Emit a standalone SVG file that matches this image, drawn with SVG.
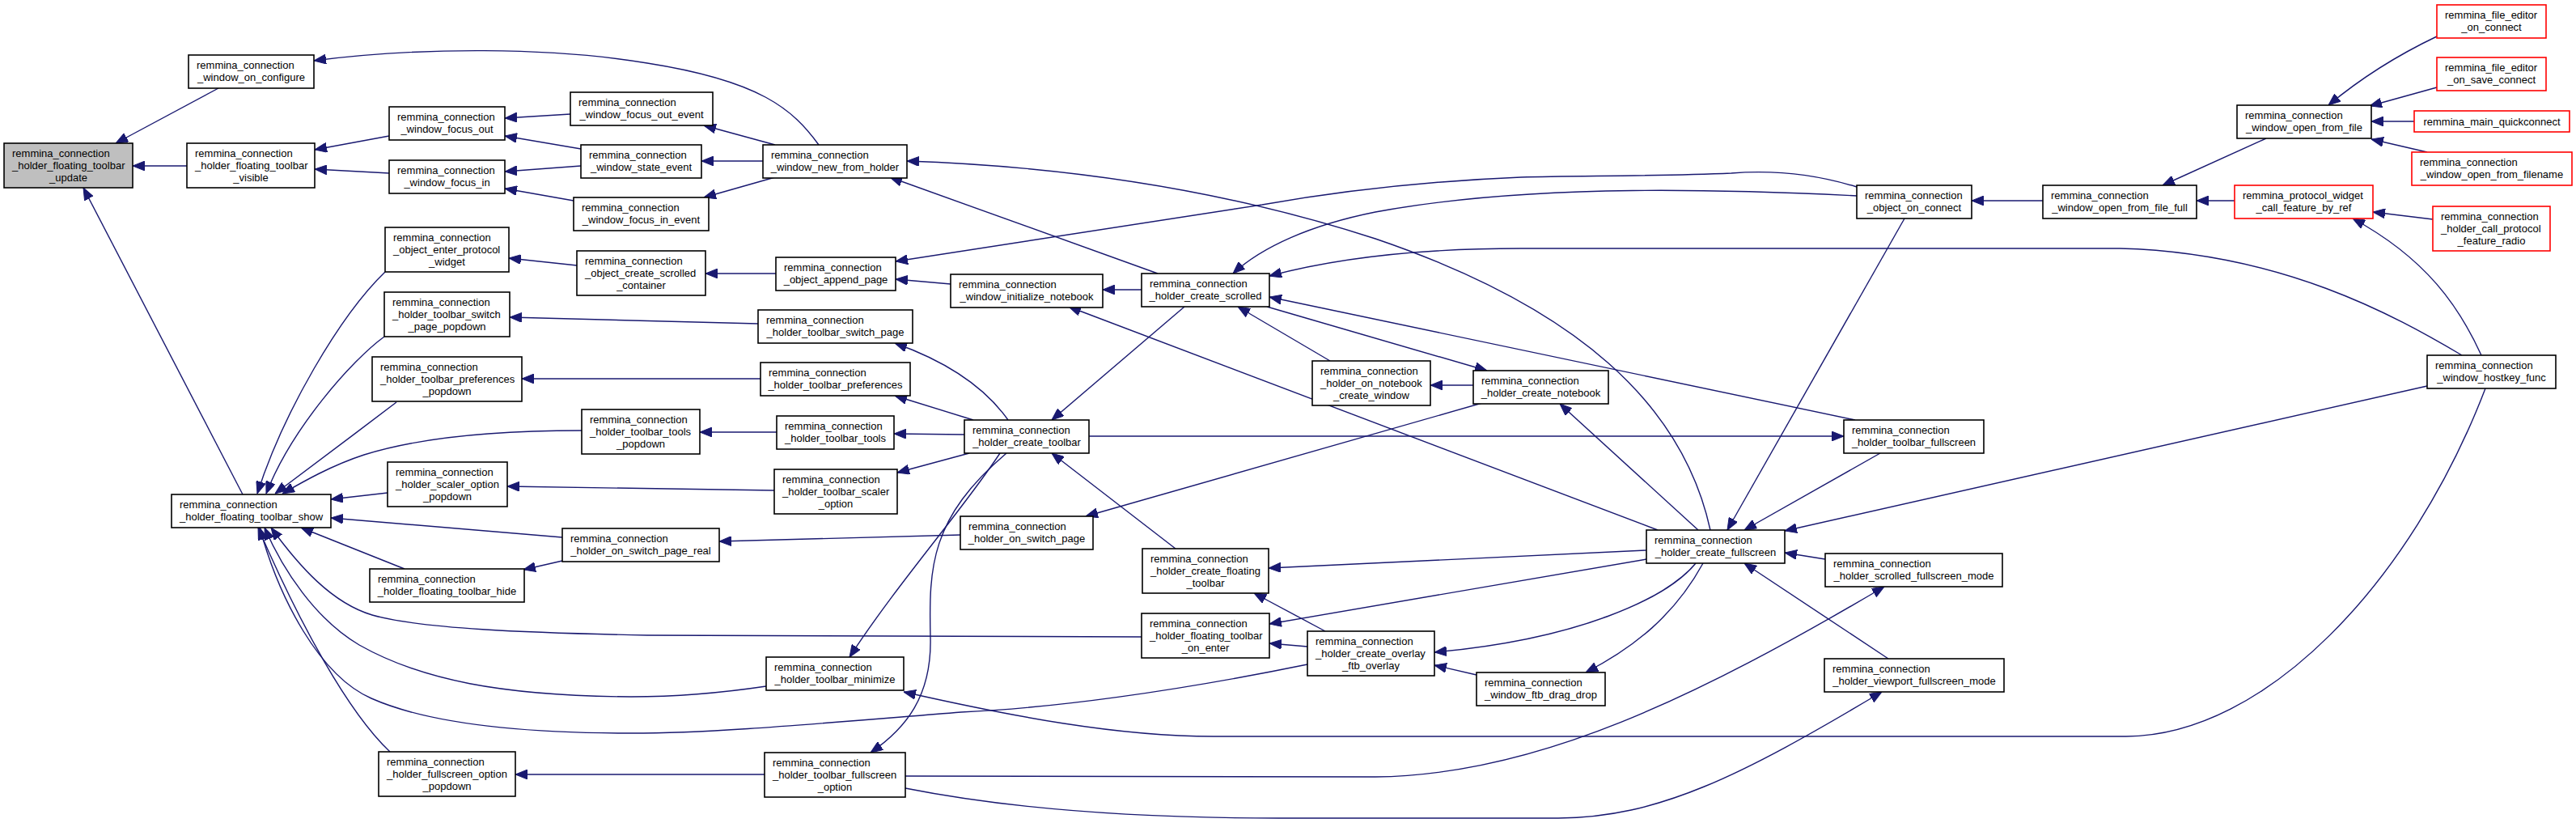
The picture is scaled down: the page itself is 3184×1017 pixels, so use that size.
<svg xmlns="http://www.w3.org/2000/svg" width="3184" height="1017" viewBox="0 0 3184 1017">
<defs>
<marker id="a" markerUnits="userSpaceOnUse" viewBox="0 0 15 12" markerWidth="15" markerHeight="12" refX="15" refY="6" orient="auto">
<path d="M0,0 L15,6 L0,12 z" fill="#191970" stroke="#191970" stroke-width="1"/>
</marker>
</defs>
<style>
rect{fill:#fff;stroke:#000;stroke-width:1.6}
.r rect{stroke:#ff0000}
.m rect{fill:#bfbfbf}
text{font-family:"Liberation Sans",Arial,sans-serif;font-size:13px;fill:#000}
.c{text-anchor:middle}
#edges path{fill:none;stroke:#191970;stroke-width:1.4;marker-end:url(#a)}
</style>
<rect x="0" y="0" width="3184" height="1017" style="fill:#fff;stroke:none"/>
<g id="edges">
<path d="M270,109 L143,177"/>
<path d="M231,205 L164,205"/>
<path d="M300,611 L103,232"/>
<path d="M481,168 L389,185"/>
<path d="M481,214 L389,209"/>
<path d="M705,141 L624,146"/>
<path d="M718,184 L624,168"/>
<path d="M718,205 L624,212"/>
<path d="M709,248 L624,233"/>
<path d="M958,179 L870,155"/>
<path d="M943,199 L867,199"/>
<path d="M958,219 L870,244"/>
<path d="M1012,179 C980,135 940,100 800,78 C680,58 520,58 388,75"/>
<path d="M1431,338 L1100,219"/>
<path d="M2114,655 C2080,500 1950,380 1700,295 C1500,230 1300,205 1121,199"/>
<path d="M2295,231 C2240,214 2190,210 2140,214 C2050,218 1950,217 1880,219 C1760,224 1650,237 1560,253 L1107,323"/>
<path d="M2295,242 C2150,235 1900,225 1700,262 C1620,278 1560,305 1524,338"/>
<path d="M3043,439 C2960,390 2820,312 2620,307 L1880,307 C1740,307 1640,322 1569,341"/>
<path d="M1566,379 L1838,458"/>
<path d="M1644,446 L1530,379"/>
<path d="M2293,519 L1569,367"/>
<path d="M1821,476 L1768,476"/>
<path d="M1411,358 L1363,358"/>
<path d="M2049,655 L1321,379"/>
<path d="M1464,379 L1300,519"/>
<path d="M1832,498 L1342,638"/>
<path d="M2099,655 L1928,499"/>
<path d="M2354,270 L2135,655"/>
<path d="M2324,560 L2156,655"/>
<path d="M3000,477 L2206,656"/>
<path d="M2256,691 L2206,683"/>
<path d="M2334,814 L2156,696"/>
<path d="M2096,696 C2060,740 1950,790 1773,806"/>
<path d="M2105,696 C2070,760 2020,800 1960,831"/>
<path d="M1825,834 L1773,822"/>
<path d="M2035,680 L1568,702"/>
<path d="M2035,691 L1569,771"/>
<path d="M1638,780 L1550,733"/>
<path d="M1616,799 L1569,795"/>
<path d="M1453,678 L1300,560"/>
<path d="M1346,539 L2279,539"/>
<path d="M1192,537 L1105,536"/>
<path d="M1198,560 L1109,584"/>
<path d="M1236,560 C1190,630 1110,720 1050,812"/>
<path d="M1244,560 C1150,640 1148,700 1150,787 C1152,860 1120,900 1076,930"/>
<path d="M1246,519 C1215,475 1165,445 1106,424"/>
<path d="M1203,519 L1106,489"/>
<path d="M937,400 L630,392"/>
<path d="M940,468 L645,468"/>
<path d="M959,338 L872,338"/>
<path d="M1175,351 L1107,345"/>
<path d="M713,328 L629,319"/>
<path d="M960,534 L865,534"/>
<path d="M957,606 L627,601"/>
<path d="M1187,661 L889,669"/>
<path d="M695,664 L409,640"/>
<path d="M695,693 L647,704"/>
<path d="M500,703 L372,652"/>
<path d="M479,609 L409,617"/>
<path d="M719,532 C620,532 520,540 450,562 C410,575 375,595 349,610"/>
<path d="M490,497 C440,535 380,580 340,610"/>
<path d="M475,416 C435,445 360,530 329,610"/>
<path d="M476,336 C420,390 350,510 318,610"/>
<path d="M1411,787 L800,785 C650,782 520,777 460,760 C410,745 370,700 335,652"/>
<path d="M947,848 C880,858 830,861 780,861 C620,860 520,840 444,797 C390,765 350,705 327,652"/>
<path d="M1616,821 C1450,855 1300,875 1188,880 C1000,895 880,906 780,906 C620,906 520,890 459,863 C395,835 345,740 321,652"/>
<path d="M482,929 C430,880 370,770 319,652"/>
<path d="M945,957 L637,957"/>
<path d="M3072,480 C2980,720 2800,909 2628,910 L1500,910 C1380,910 1250,885 1117,855"/>
<path d="M3067,439 C3040,380 3000,320 2908,270"/>
<path d="M3007,271 L2933,262"/>
<path d="M2762,248 L2715,248"/>
<path d="M2525,248 L2437,248"/>
<path d="M2801,171 L2673,229"/>
<path d="M3012,45 C2970,65 2920,95 2878,130"/>
<path d="M3012,108 L2929,131"/>
<path d="M2984,150 L2931,150"/>
<path d="M3000,188 L2931,172"/>
<path d="M1119,959 L1700,960 C1900,958 2100,860 2329,725"/>
<path d="M1119,974 C1250,1000 1400,1011 1580,1011 L1926,1011 C2050,1010 2150,960 2326,855"/>
</g>
<g id="n_main" class="m"><rect x="5" y="177" width="159" height="55"/><text x="15" y="193.5">remmina_connection</text><text x="15" y="208.5">_holder_floating_toolbar</text><text class="c" x="84.5" y="223.5">_update</text></g>
<g id="n_config"><rect x="233" y="68" width="155" height="41"/><text x="243" y="85">remmina_connection</text><text class="c" x="310.5" y="100">_window_on_configure</text></g>
<g id="n_visible"><rect x="231" y="177" width="158" height="55"/><text x="241" y="193.5">remmina_connection</text><text x="241" y="208.5">_holder_floating_toolbar</text><text class="c" x="310" y="223.5">_visible</text></g>
<g id="n_fout"><rect x="481" y="132" width="143" height="41"/><text x="491" y="149">remmina_connection</text><text class="c" x="552.5" y="164">_window_focus_out</text></g>
<g id="n_fin"><rect x="481" y="198" width="143" height="41"/><text x="491" y="215">remmina_connection</text><text class="c" x="552.5" y="230">_window_focus_in</text></g>
<g id="n_enter"><rect x="476" y="281" width="153" height="55"/><text x="486" y="297.5">remmina_connection</text><text x="486" y="312.5">_object_enter_protocol</text><text class="c" x="552.5" y="327.5">_widget</text></g>
<g id="n_swpp"><rect x="475" y="361" width="155" height="55"/><text x="485" y="377.5">remmina_connection</text><text x="485" y="392.5">_holder_toolbar_switch</text><text class="c" x="552.5" y="407.5">_page_popdown</text></g>
<g id="n_prefpop"><rect x="460" y="441" width="185" height="55"/><text x="470" y="457.5">remmina_connection</text><text x="470" y="472.5">_holder_toolbar_preferences</text><text class="c" x="552.5" y="487.5">_popdown</text></g>
<g id="n_foutev"><rect x="705" y="114" width="176" height="41"/><text x="715" y="131">remmina_connection</text><text class="c" x="793" y="146">_window_focus_out_event</text></g>
<g id="n_state"><rect x="718" y="179" width="149" height="41"/><text x="728" y="196">remmina_connection</text><text class="c" x="792.5" y="211">_window_state_event</text></g>
<g id="n_finev"><rect x="709" y="244" width="167" height="41"/><text x="719" y="261">remmina_connection</text><text class="c" x="792.5" y="276">_window_focus_in_event</text></g>
<g id="n_container"><rect x="713" y="310" width="159" height="55"/><text x="723" y="326.5">remmina_connection</text><text x="723" y="341.5">_object_create_scrolled</text><text class="c" x="792.5" y="356.5">_container</text></g>
<g id="n_newfh"><rect x="943" y="179" width="178" height="41"/><text x="953" y="196">remmina_connection</text><text class="c" x="1032" y="211">_window_new_from_holder</text></g>
<g id="n_append"><rect x="959" y="318" width="148" height="41"/><text x="969" y="335">remmina_connection</text><text class="c" x="1033" y="350">_object_append_page</text></g>
<g id="n_initnb"><rect x="1175" y="339" width="188" height="41"/><text x="1185" y="356">remmina_connection</text><text class="c" x="1269" y="371">_window_initialize_notebook</text></g>
<g id="n_cscrolled"><rect x="1411" y="338" width="158" height="41"/><text x="1421" y="355">remmina_connection</text><text class="c" x="1490" y="370">_holder_create_scrolled</text></g>
<g id="n_swpage"><rect x="937" y="383" width="191" height="41"/><text x="947" y="400">remmina_connection</text><text class="c" x="1032.5" y="415">_holder_toolbar_switch_page</text></g>
<g id="n_pref"><rect x="940" y="448" width="185" height="41"/><text x="950" y="465">remmina_connection</text><text class="c" x="1032.5" y="480">_holder_toolbar_preferences</text></g>
<g id="n_onnbcw"><rect x="1622" y="446" width="146" height="55"/><text x="1632" y="462.5">remmina_connection</text><text x="1632" y="477.5">_holder_on_notebook</text><text class="c" x="1695" y="492.5">_create_window</text></g>
<g id="n_cnotebook"><rect x="1821" y="458" width="167" height="41"/><text x="1831" y="475">remmina_connection</text><text class="c" x="1904.5" y="490">_holder_create_notebook</text></g>
<g id="n_ooc"><rect x="2295" y="229" width="142" height="41"/><text x="2305" y="246">remmina_connection</text><text class="c" x="2366" y="261">_object_on_connect</text></g>
<g id="n_fe_oc" class="r"><rect x="3012" y="6" width="135" height="41"/><text x="3022" y="23">remmina_file_editor</text><text class="c" x="3079.5" y="38">_on_connect</text></g>
<g id="n_fe_osc" class="r"><rect x="3012" y="71" width="135" height="41"/><text x="3022" y="88">remmina_file_editor</text><text class="c" x="3079.5" y="103">_on_save_connect</text></g>
<g id="n_oof"><rect x="2765" y="130" width="166" height="41"/><text x="2775" y="147">remmina_connection</text><text class="c" x="2848" y="162">_window_open_from_file</text></g>
<g id="n_quick" class="r"><rect x="2984" y="137" width="192" height="26"/><text class="c" x="3080" y="154.5">remmina_main_quickconnect</text></g>
<g id="n_oofn" class="r"><rect x="2981" y="188" width="198" height="41"/><text x="2991" y="205">remmina_connection</text><text class="c" x="3080" y="220">_window_open_from_filename</text></g>
<g id="n_ooff"><rect x="2525" y="229" width="190" height="41"/><text x="2535" y="246">remmina_connection</text><text class="c" x="2620" y="261">_window_open_from_file_full</text></g>
<g id="n_cfbr" class="r"><rect x="2762" y="229" width="171" height="41"/><text x="2772" y="246">remmina_protocol_widget</text><text class="c" x="2847.5" y="261">_call_feature_by_ref</text></g>
<g id="n_cpfr" class="r"><rect x="3007" y="255" width="145" height="55"/><text x="3017" y="271.5">remmina_connection</text><text x="3017" y="286.5">_holder_call_protocol</text><text class="c" x="3079.5" y="301.5">_feature_radio</text></g>
<g id="n_hostkey"><rect x="3000" y="439" width="159" height="41"/><text x="3010" y="456">remmina_connection</text><text class="c" x="3079.5" y="471">_window_hostkey_func</text></g>
<g id="n_show"><rect x="212" y="611" width="197" height="41"/><text x="222" y="628">remmina_connection</text><text class="c" x="310.5" y="643">_holder_floating_toolbar_show</text></g>
<g id="n_scalerpop"><rect x="479" y="571" width="148" height="55"/><text x="489" y="587.5">remmina_connection</text><text x="489" y="602.5">_holder_scaler_option</text><text class="c" x="553" y="617.5">_popdown</text></g>
<g id="n_hide"><rect x="457" y="703" width="191" height="41"/><text x="467" y="720">remmina_connection</text><text class="c" x="552.5" y="735">_holder_floating_toolbar_hide</text></g>
<g id="n_fsoptpop"><rect x="468" y="929" width="169" height="55"/><text x="478" y="945.5">remmina_connection</text><text x="478" y="960.5">_holder_fullscreen_option</text><text class="c" x="552.5" y="975.5">_popdown</text></g>
<g id="n_toolspop"><rect x="719" y="506" width="146" height="55"/><text x="729" y="522.5">remmina_connection</text><text x="729" y="537.5">_holder_toolbar_tools</text><text class="c" x="792" y="552.5">_popdown</text></g>
<g id="n_realsw"><rect x="695" y="653" width="194" height="41"/><text x="705" y="670">remmina_connection</text><text class="c" x="792" y="685">_holder_on_switch_page_real</text></g>
<g id="n_tools"><rect x="960" y="514" width="145" height="41"/><text x="970" y="531">remmina_connection</text><text class="c" x="1032.5" y="546">_holder_toolbar_tools</text></g>
<g id="n_ctoolbar"><rect x="1192" y="519" width="154" height="41"/><text x="1202" y="536">remmina_connection</text><text class="c" x="1269" y="551">_holder_create_toolbar</text></g>
<g id="n_scalopt"><rect x="957" y="580" width="152" height="55"/><text x="967" y="596.5">remmina_connection</text><text x="967" y="611.5">_holder_toolbar_scaler</text><text class="c" x="1033" y="626.5">_option</text></g>
<g id="n_onsw"><rect x="1187" y="638" width="164" height="41"/><text x="1197" y="655">remmina_connection</text><text class="c" x="1269" y="670">_holder_on_switch_page</text></g>
<g id="n_cftb"><rect x="1412" y="678" width="156" height="55"/><text x="1422" y="694.5">remmina_connection</text><text x="1422" y="709.5">_holder_create_floating</text><text class="c" x="1490" y="724.5">_toolbar</text></g>
<g id="n_onenter"><rect x="1411" y="758" width="158" height="55"/><text x="1421" y="774.5">remmina_connection</text><text x="1421" y="789.5">_holder_floating_toolbar</text><text class="c" x="1490" y="804.5">_on_enter</text></g>
<g id="n_minimize"><rect x="947" y="812" width="170" height="41"/><text x="957" y="829">remmina_connection</text><text class="c" x="1032" y="844">_holder_toolbar_minimize</text></g>
<g id="n_fsopt"><rect x="945" y="930" width="174" height="55"/><text x="955" y="946.5">remmina_connection</text><text x="955" y="961.5">_holder_toolbar_fullscreen</text><text class="c" x="1032" y="976.5">_option</text></g>
<g id="n_cfull"><rect x="2035" y="655" width="171" height="41"/><text x="2045" y="672">remmina_connection</text><text class="c" x="2120.5" y="687">_holder_create_fullscreen</text></g>
<g id="n_overlay"><rect x="1616" y="780" width="157" height="55"/><text x="1626" y="796.5">remmina_connection</text><text x="1626" y="811.5">_holder_create_overlay</text><text class="c" x="1694.5" y="826.5">_ftb_overlay</text></g>
<g id="n_dragdrop"><rect x="1825" y="831" width="159" height="41"/><text x="1835" y="848">remmina_connection</text><text class="c" x="1904.5" y="863">_window_ftb_drag_drop</text></g>
<g id="n_tbfull"><rect x="2279" y="519" width="173" height="41"/><text x="2289" y="536">remmina_connection</text><text class="c" x="2365.5" y="551">_holder_toolbar_fullscreen</text></g>
<g id="n_scrolledfs"><rect x="2256" y="684" width="219" height="41"/><text x="2266" y="701">remmina_connection</text><text class="c" x="2365.5" y="716">_holder_scrolled_fullscreen_mode</text></g>
<g id="n_viewportfs"><rect x="2255" y="814" width="222" height="41"/><text x="2265" y="831">remmina_connection</text><text class="c" x="2366" y="846">_holder_viewport_fullscreen_mode</text></g>
</svg>
